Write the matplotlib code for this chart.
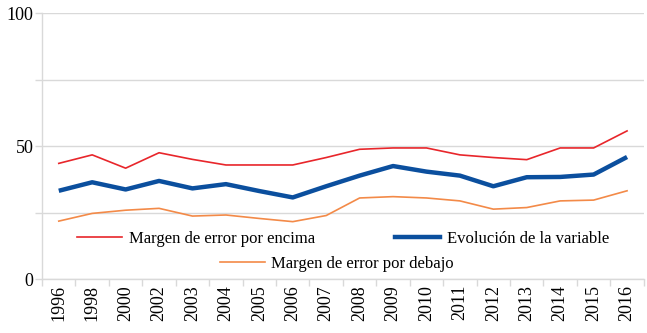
import matplotlib.pyplot as plt
from matplotlib.lines import Line2D

years = ["1996", "1998", "2000", "2002", "2003", "2004", "2005", "2006",
         "2007", "2008", "2009", "2010", "2011", "2012", "2013", "2014",
         "2015", "2016"]
upper = [43.6, 46.8, 41.8, 47.6, 45.1, 43.0, 43.0, 43.0, 45.8,
         48.9, 49.4, 49.4, 46.8, 45.8, 45.0, 49.4, 49.4, 55.8]
value = [33.3, 36.5, 33.8, 37.0, 34.2, 35.8, 33.2, 30.8, 35.0,
         39.0, 42.6, 40.5, 39.0, 35.0, 38.4, 38.5, 39.4, 46.0]
lower = [21.9, 24.8, 26.0, 26.7, 23.8, 24.2, 22.9, 21.7, 24.0,
         30.6, 31.1, 30.6, 29.5, 26.4, 27.0, 29.5, 29.8, 33.3]
y_ticks = [0, 25, 50, 75, 100]
y_labels = ["0", "", "50", "", "100"]

RED = "#e8262b"
BLUE = "#0b4f9e"
ORANGE = "#f38a48"
GRID = "#d9d9d9"


def main():
    plt.rcParams["font.family"] = ["Liberation Serif", "DejaVu Serif"]
    fig = plt.figure(figsize=(6.47, 3.33), dpi=100)
    ax = fig.add_axes([0.065, 0.161, 0.930, 0.799])

    x = list(range(len(years)))
    ax.plot(x, upper, color=RED, lw=1.2, zorder=3)
    ax.plot(x, lower, color=ORANGE, lw=1.2, zorder=3)
    ax.plot(x, value, color=BLUE, lw=3.2, zorder=4,
            solid_capstyle="butt")

    ax.set_xlim(-0.5, len(years) - 0.5)
    ax.set_ylim(0, 100)
    ax.set_xticks(x)
    ax.set_xticklabels(years, rotation=90, fontsize=13)
    ax.set_xticks([i - 0.5 for i in range(len(years) + 1)], minor=True)
    ax.tick_params(axis="x", which="major", length=0, pad=4)
    ax.tick_params(axis="x", which="minor", length=5, color=GRID, width=1)
    ax.set_yticks(y_ticks)
    ax.set_yticklabels(y_labels, fontsize=13)
    ax.tick_params(axis="y", length=5, color=GRID, width=1, pad=1)
    ax.grid(axis="y", color=GRID, lw=1)
    ax.set_axisbelow(True)

    for side in ["top", "right"]:
        ax.spines[side].set_visible(False)
    for side in ["left", "bottom"]:
        ax.spines[side].set_color(GRID)
        ax.spines[side].set_linewidth(1)

    h_up = Line2D([], [], color=RED, lw=1.2)
    h_val = Line2D([], [], color=BLUE, lw=3.2)
    h_low = Line2D([], [], color=ORANGE, lw=1.2)
    leg1 = ax.legend([h_up, h_val],
                     ["Margen de error por encima", "Evolución de la variable"],
                     ncol=2, loc="center", bbox_to_anchor=(0.5, 0.151),
                     frameon=False, fontsize=12, handlelength=2.7,
                     handletextpad=0.4, columnspacing=4.8)
    ax.add_artist(leg1)
    ax.legend([h_low], ["Margen de error por debajo"],
              loc="center", bbox_to_anchor=(0.49, 0.058),
              frameon=False, fontsize=12, handlelength=2.7,
              handletextpad=0.4)

    fig.savefig("out.png", dpi=100)


if __name__ == "__main__":
    main()
